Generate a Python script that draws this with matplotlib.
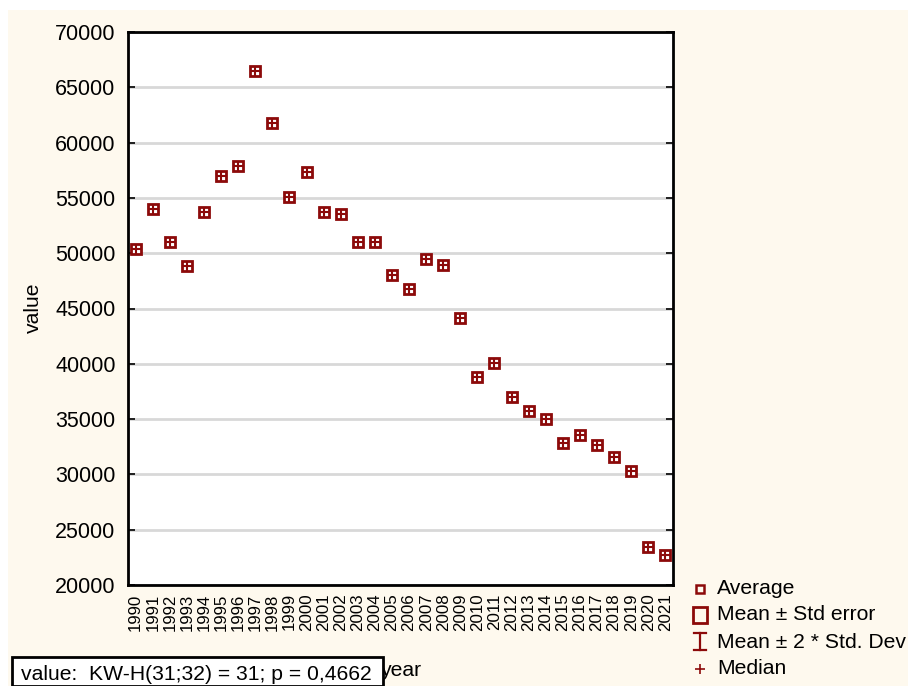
import matplotlib
matplotlib.use("Agg")
import matplotlib.pyplot as plt
from matplotlib.lines import Line2D
from matplotlib.patches import Rectangle

plt.rcParams['font.family'] = ['Liberation Sans', 'DejaVu Sans']

years = [str(y) for y in range(1990, 2022)]
averages = [50400, 54000, 51000, 48800, 53700, 56950, 57850, 66500, 61800, 55100,
            57300, 53700, 53500, 51000, 51000, 48050, 46800, 49500, 48950, 44100,
            38800, 40100, 37000, 35750, 35000, 32850, 33600, 32650, 31600, 30300,
            23450, 22700]
y_ticks = [20000, 25000, 30000, 35000, 40000, 45000, 50000, 55000, 60000, 65000, 70000]
legend_labels = ["Average", "Mean \u00b1 Std error", "Mean \u00b1 2 * Std. Dev", "Median"]
stat_text = "value:  KW-H(31;32) = 31; p = 0,4662"

W, H = 908, 686
DARK = '#8c0a0a'
CREAM = '#fef9ee'
FS = 15.2
FS_Y = 15.5
FS_X = 12.2

fig = plt.figure(figsize=(W / 100, H / 100), dpi=100, facecolor='white')
fig.add_artist(Rectangle((8 / W, 0), 1 - 8 / W, 1 - 10 / H, transform=fig.transFigure,
                         facecolor=CREAM, edgecolor='none', zorder=0))

ax = fig.add_axes([128 / W, 1 - 585 / H, (673 - 128) / W, (585 - 32) / H])
ax.set_facecolor('white')
x = list(range(len(years)))
ax.plot(x, averages, linestyle='none', marker='s', ms=7.2, mfc='white', mec=DARK, mew=2.0, zorder=3)
ax.plot(x, averages, linestyle='none', marker='+', ms=6.8, color=DARK, mew=1.5, zorder=4)

ax.set_xlim(-0.45, 31.45)
ax.set_ylim(20000, 70000)
ax.set_yticks(y_ticks)
ax.set_yticklabels([str(v) for v in y_ticks], fontsize=FS_Y)
ax.set_xticks(x)
ax.set_xticklabels(years, rotation=90, fontsize=FS_X, va='top')
ax.set_xticks(x[::2], minor=True)
ax.tick_params(axis='x', which='major', length=0, pad=6)
ax.tick_params(axis='x', which='minor', direction='in', length=4, width=1.2, top=True, bottom=True)
ax.tick_params(axis='y', which='major', direction='in', length=5, width=1.2, left=True, right=True, pad=9)
ax.yaxis.grid(True, color='#d8d8d8', linewidth=2)
ax.set_axisbelow(True)
for s in ax.spines.values():
    s.set_linewidth(2)
    s.set_color('black')

fig.text(33 / W, 1 - 308 / H, "value", rotation=90, ha='center', va='center', fontsize=FS)
fig.text(401 / W, 1 - 671 / H, "year", ha='center', va='center', fontsize=FS)

# stat box
fig.add_artist(Rectangle((12 / W, 0), (383 - 12) / W, (686 - 657) / H, transform=fig.transFigure,
                         facecolor='white', edgecolor='black', linewidth=2, zorder=5, clip_on=False))
fig.text(21 / W, 1 - 674 / H, stat_text, ha='left', va='center', fontsize=FS, zorder=6)

# legend
tf = fig.transFigure
mx = 700
rows = [589, 615, 642, 669]
fig.add_artist(Line2D([mx / W], [1 - rows[0] / H], transform=tf, marker='s', ms=5.5,
                      mfc='none', mec=DARK, mew=1.8, linestyle='none'))
fig.add_artist(Rectangle(((mx - 7) / W, 1 - (rows[1] + 8) / H), 14 / W, 16 / H, transform=tf,
                         facecolor='none', edgecolor=DARK, linewidth=2))
yt, yb = rows[2] - 9, rows[2] + 8
fig.add_artist(Line2D([mx / W, mx / W], [1 - yt / H, 1 - yb / H], transform=tf, color=DARK, lw=1.6))
fig.add_artist(Line2D([(mx - 6) / W, (mx + 6) / W], [1 - yt / H, 1 - yt / H], transform=tf, color=DARK, lw=1.6))
fig.add_artist(Line2D([(mx - 6) / W, (mx + 6) / W], [1 - yb / H, 1 - yb / H], transform=tf, color=DARK, lw=1.6))
fig.add_artist(Line2D([mx / W], [1 - rows[3] / H], transform=tf, marker='+', ms=7,
                      color=DARK, mew=1.2, linestyle='none'))
for lab, r in zip(legend_labels, rows):
    fig.text(717 / W, 1 - r / H, lab, ha='left', va='center', fontsize=FS)

fig.savefig('out.png', dpi=100, facecolor='white')
